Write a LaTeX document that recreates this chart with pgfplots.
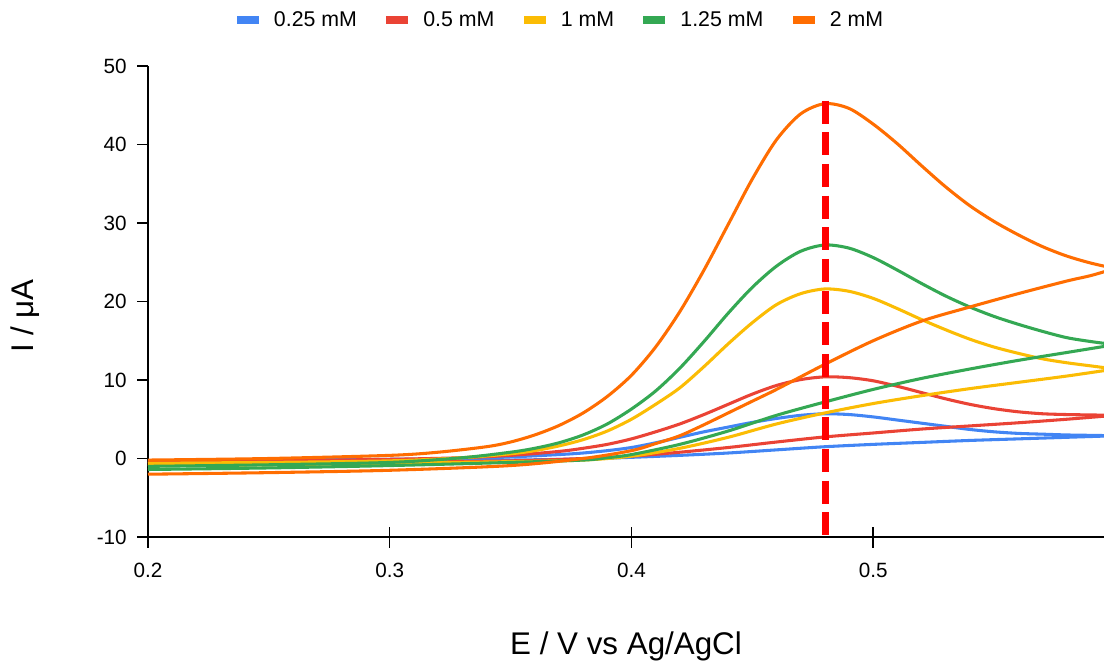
\documentclass[border=0pt]{standalone}
\usepackage{pgfplots}
\pgfplotsset{compat=1.18}
\usepackage{fontspec}
\setmainfont{Liberation Sans}
\definecolor{gblue}{HTML}{4285F4}
\definecolor{gred}{HTML}{EA4335}
\definecolor{gyellow}{HTML}{FBBC04}
\definecolor{ggreen}{HTML}{34A853}
\definecolor{gorange}{HTML}{FF6D01}
\definecolor{dashred}{HTML}{FF0000}
\begin{document}
\begin{tikzpicture}
\useasboundingbox (-111pt,-96pt) rectangle (717pt,402.75pt);
\begin{axis}[
  at={(0,0)}, anchor=south west,
  scale only axis, width=717pt, height=353.25pt,
  xmin=0.2, xmax=0.5955, ymin=-10, ymax=50,
  axis lines=left,
  axis line style={-, line width=1.1pt, black},
  xtick={0.2,0.3,0.4,0.5}, ytick={-10,0,10,20,30,40,50},
  tick align=center, major tick length=15.75pt,
  tick style={line width=1.1pt, black},
  y tick style={dash pattern=on 7.875pt off 20pt},
  /pgf/number format/assume math mode=true,
  tick label style={font=\fontsize{15.5}{17}\selectfont, inner sep=0pt},
  xticklabel style={anchor=center, yshift=-16.9pt},
  yticklabel style={anchor=east, xshift=-7.9pt},
  xlabel={E / V vs Ag/AgCl},
  ylabel={I / μA},
  xlabel style={at={(axis description cs:0.5,-0.2505)}, anchor=base, inner sep=0pt, font=\fontsize{23.5}{26}\selectfont},
  ylabel style={at={(axis description cs:-0.1287,0.4692)}, anchor=center, inner sep=0pt, font=\fontsize{23.5}{26}\selectfont},
  legend columns=5,
  legend cell align=left,
  legend style={draw=none, fill=none, inner sep=0pt, outer sep=0pt,
    at={(axis description cs:0.0931,1.0977)}, anchor=west,
    font=\fontsize{16}{19}\selectfont,
    nodes={inner sep=0pt},
    /tikz/every odd column/.append style={column sep=11.25pt},
    /tikz/every even column/.append style={column sep=22pt}},
  legend image code/.code={\fill[#1, draw=none] (0pt,-3pt) rectangle (16.5pt,3pt);},
  every axis plot/.append style={line width=2.3pt, smooth},
]
% 0.25 mM
\addplot[color=gblue] coordinates {(0.2,-0.3)(0.25,-0.2)(0.3,-0.1)(0.33,0.0)(0.35,0.2)(0.37,0.5)(0.38,0.7)(0.39,1.0)(0.40,1.4)(0.41,2.0)(0.42,2.7)(0.43,3.4)(0.44,4.0)(0.45,4.6)(0.46,5.1)(0.47,5.5)(0.48,5.7)(0.49,5.6)(0.50,5.3)(0.51,4.9)(0.52,4.5)(0.53,4.1)(0.54,3.7)(0.55,3.4)(0.56,3.2)(0.57,3.1)(0.58,3.0)(0.59,2.95)(0.60,2.9)};
\addlegendentry{0.25 mM}
\addplot[color=gblue, forget plot] coordinates {(0.2,-0.5)(0.25,-0.4)(0.3,-0.3)(0.35,-0.2)(0.38,-0.05)(0.40,0.15)(0.42,0.4)(0.44,0.7)(0.46,1.1)(0.48,1.5)(0.50,1.8)(0.52,2.05)(0.54,2.3)(0.56,2.5)(0.58,2.7)(0.60,2.9)};
% 0.5 mM
\addplot[color=gred] coordinates {(0.2,-0.4)(0.25,-0.3)(0.3,-0.1)(0.33,0.1)(0.35,0.4)(0.37,0.9)(0.38,1.3)(0.39,1.8)(0.40,2.5)(0.41,3.4)(0.42,4.4)(0.43,5.6)(0.44,6.9)(0.45,8.2)(0.46,9.3)(0.47,10.05)(0.48,10.4)(0.49,10.3)(0.50,9.9)(0.51,9.2)(0.52,8.4)(0.53,7.6)(0.54,6.9)(0.55,6.35)(0.56,5.95)(0.57,5.7)(0.58,5.6)(0.59,5.55)(0.60,5.5)};
\addlegendentry{0.5 mM}
\addplot[color=gred, forget plot] coordinates {(0.2,-0.7)(0.25,-0.6)(0.3,-0.5)(0.35,-0.3)(0.38,0.0)(0.40,0.3)(0.42,0.8)(0.44,1.4)(0.46,2.1)(0.48,2.75)(0.50,3.25)(0.52,3.75)(0.54,4.15)(0.56,4.55)(0.58,5.0)(0.60,5.5)};
% 1 mM
\addplot[color=gyellow] coordinates {(0.2,-0.6)(0.25,-0.5)(0.3,-0.3)(0.33,0.1)(0.35,0.6)(0.36,1.0)(0.37,1.6)(0.38,2.4)(0.39,3.5)(0.40,5.0)(0.41,6.9)(0.42,9.0)(0.43,11.7)(0.44,14.6)(0.45,17.3)(0.46,19.6)(0.47,21.0)(0.48,21.6)(0.49,21.3)(0.50,20.4)(0.51,19.1)(0.52,17.7)(0.53,16.4)(0.54,15.2)(0.55,14.2)(0.56,13.4)(0.57,12.7)(0.58,12.2)(0.59,11.8)(0.60,11.4)};
\addlegendentry{1 mM}
\addplot[color=gyellow, forget plot] coordinates {(0.2,-0.9)(0.25,-0.8)(0.3,-0.6)(0.35,-0.4)(0.38,-0.2)(0.40,0.3)(0.42,1.3)(0.44,2.7)(0.46,4.4)(0.48,5.8)(0.50,7.0)(0.52,8.0)(0.54,8.9)(0.56,9.7)(0.58,10.5)(0.60,11.4)};
% 1.25 mM
\addplot[color=ggreen] coordinates {(0.2,-1.0)(0.25,-0.8)(0.3,-0.5)(0.33,0.1)(0.35,0.8)(0.36,1.3)(0.37,2.0)(0.38,3.0)(0.39,4.4)(0.40,6.3)(0.41,8.6)(0.42,11.5)(0.43,14.9)(0.44,18.5)(0.45,21.8)(0.46,24.5)(0.47,26.4)(0.48,27.2)(0.49,26.8)(0.50,25.6)(0.51,24.0)(0.52,22.3)(0.53,20.7)(0.54,19.3)(0.55,18.1)(0.56,17.1)(0.57,16.2)(0.58,15.4)(0.59,14.9)(0.60,14.5)};
\addlegendentry{1.25 mM}
\addplot[color=ggreen, forget plot] coordinates {(0.2,-1.4)(0.25,-1.2)(0.3,-0.9)(0.35,-0.5)(0.38,-0.2)(0.39,0.1)(0.40,0.5)(0.42,1.8)(0.44,3.5)(0.46,5.5)(0.48,7.2)(0.50,8.8)(0.52,10.2)(0.54,11.4)(0.56,12.5)(0.58,13.5)(0.60,14.5)};
% 2 mM
\addplot[color=gorange] coordinates {(0.2,-0.2)(0.25,0.0)(0.3,0.4)(0.32,0.8)(0.34,1.5)(0.35,2.1)(0.36,3.0)(0.37,4.2)(0.38,5.8)(0.39,7.9)(0.40,10.6)(0.41,14.2)(0.42,18.7)(0.43,24.0)(0.44,29.8)(0.45,35.6)(0.46,40.6)(0.47,43.9)(0.48,45.2)(0.49,44.6)(0.50,42.6)(0.51,40.1)(0.52,37.3)(0.53,34.6)(0.54,32.2)(0.55,30.2)(0.56,28.5)(0.57,27.0)(0.58,25.8)(0.59,24.9)(0.60,24.2)};
\addlegendentry{2 mM}
\addplot[color=gorange, forget plot] coordinates {(0.2,-2.0)(0.25,-1.8)(0.3,-1.5)(0.35,-0.9)(0.38,0.0)(0.40,1.0)(0.41,1.9)(0.42,2.9)(0.43,4.3)(0.44,5.8)(0.45,7.3)(0.46,8.8)(0.48,12.0)(0.50,15.0)(0.52,17.5)(0.54,19.3)(0.56,21.0)(0.58,22.6)(0.59,23.3)(0.60,24.2)};
% peak potential marker
\addplot[color=dashred, line width=5pt, sharp plot, dash pattern=on 17.25pt off 6.5pt, forget plot] coordinates {(0.4803,45.6)(0.4803,-10)};
\end{axis}
\end{tikzpicture}
\end{document}
